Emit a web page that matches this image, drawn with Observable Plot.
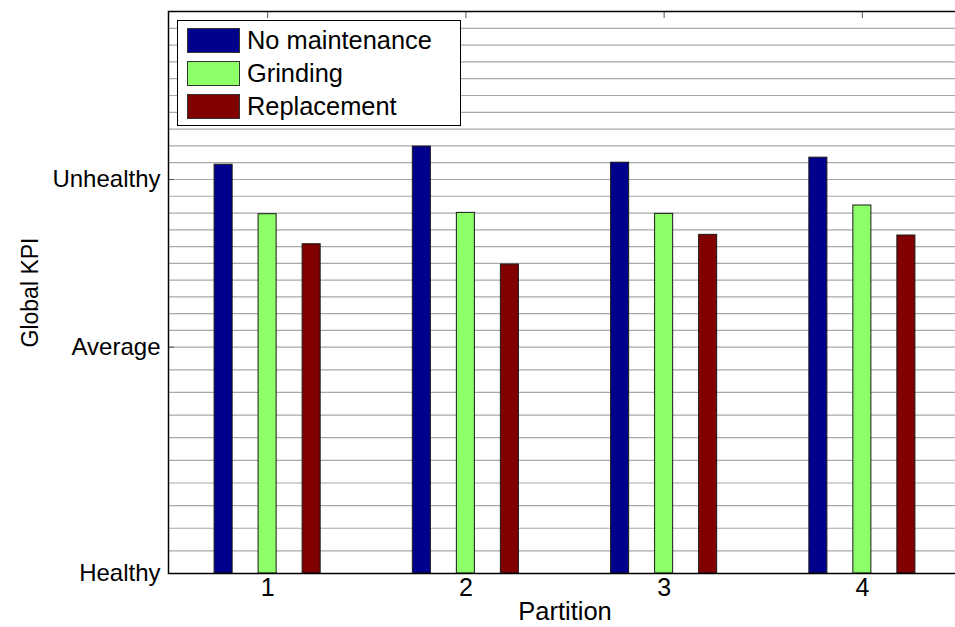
<!DOCTYPE html>
<html>
<head>
<meta charset="utf-8">
<script src="https://cdn.jsdelivr.net/npm/d3@7"></script>
<script src="https://cdn.jsdelivr.net/npm/@observablehq/plot@0.6"></script>
<style>
  html, body { margin: 0; padding: 0; background: white; overflow: hidden; }
  #wrap { position: relative; width: 955px; height: 627px; overflow: hidden; font-family: "Liberation Sans", Arial, sans-serif; }
  #legend { position: absolute; left: 177px; top: 20px; width: 284px; height: 106px; border: 1px solid #000; background: #fff; box-sizing: border-box; }
  .row { position: absolute; left: 9px; height: 25px; display: flex; align-items: center; }
  .sw { width: 51px; height: 23px; border: 1px solid #333; margin-right: 7px; }
  .lab { font-size: 25.4px; color: #000; white-space: nowrap; }
</style>
</head>
<body>
<div id="wrap"></div>
<script>
// ---- data ----
const partitions = [1, 2, 3, 4];
const seriesNames = ["No maintenance", "Grinding", "Replacement"];
const seriesColors = ["#00008c", "#8cff69", "#800000"];
const noMaintenance = [2.088, 2.196, 2.100, 2.130];
const grinding = [1.793, 1.801, 1.795, 1.845];
const replacement = [1.614, 1.493, 1.670, 1.666];
const yTickValues = [0, 1, 2];
const yTickLabels = ["Healthy", "Average", "Unhealthy"];

const seriesValues = [noMaintenance, grinding, replacement];
const offsets = [-0.222, 0, 0.222];
const halfW = 0.0455;

const rows = [];
seriesNames.forEach((s, si) => {
  partitions.forEach((p, pi) => {
    rows.push({series: s, si, p, value: seriesValues[si][pi]});
  });
});

const gridVals = d3.range(1, 30).map(i => i / 10);

const chart = Plot.plot({
  width: 955,
  height: 627,
  marginLeft: 168,
  marginRight: -6,
  marginTop: 11,
  marginBottom: 54,
  style: {fontFamily: "'Liberation Sans', Arial, sans-serif", fontSize: "24px", background: "white", color: "#000"},
  x: {type: "linear", domain: [0.5, 4.5], range: [168, 961]},
  y: {type: "linear", domain: [0, 1, 2, 3], range: [573, 346.7, 179, 11]},
  color: {domain: seriesNames, range: seriesColors},
  marks: [
    Plot.ruleY(gridVals, {stroke: "#a8a8a8", strokeWidth: 1.2}),
    Plot.rectY(rows, {
      x1: d => d.p + offsets[d.si] - halfW,
      x2: d => d.p + offsets[d.si] + halfW,
      y1: 0,
      y2: "value",
      fill: "series",
      stroke: "#1a1a1a",
      strokeWidth: 1
    }),
    Plot.axisY(yTickValues, {tickSize: 0, tickPadding: 8, tickFormat: d => yTickLabels[d], fontSize: 24, label: null}),
    Plot.axisY(yTickValues, {tickSize: -6, text: null, label: null, stroke: "#555"}),
    Plot.axisY(yTickValues, {anchor: "right", tickSize: -6, text: null, label: null, stroke: "#555"}),
    Plot.axisX(partitions, {tickSize: 0, tickPadding: 5, tickFormat: d => String(d), fontSize: 25, label: null}),
    Plot.axisX(partitions, {anchor: "top", tickSize: -6, text: null, label: null, stroke: "#555"}),
    Plot.frame({stroke: "#000", strokeWidth: 1.5}),
    Plot.text(["Global KPI"], {frameAnchor: "left", dx: -138, rotate: -90, textAnchor: "middle", lineAnchor: "middle", fontSize: 23, fill: "#000"}),
    Plot.text(["Partition"], {frameAnchor: "bottom", dy: 38, textAnchor: "middle", lineAnchor: "middle", fontSize: 25.5, fill: "#000"})
  ]
});

const wrap = document.getElementById("wrap");
wrap.appendChild(chart);

const legend = document.createElement("div");
legend.id = "legend";
seriesNames.forEach((s, i) => {
  const row = document.createElement("div");
  row.className = "row";
  row.style.top = (7 + i * 33.2) + "px";
  const sw = document.createElement("div");
  sw.className = "sw";
  sw.style.background = seriesColors[i];
  const lab = document.createElement("span");
  lab.className = "lab";
  lab.textContent = s;
  row.appendChild(sw);
  row.appendChild(lab);
  legend.appendChild(row);
});
wrap.appendChild(legend);
</script>
</body>
</html>
